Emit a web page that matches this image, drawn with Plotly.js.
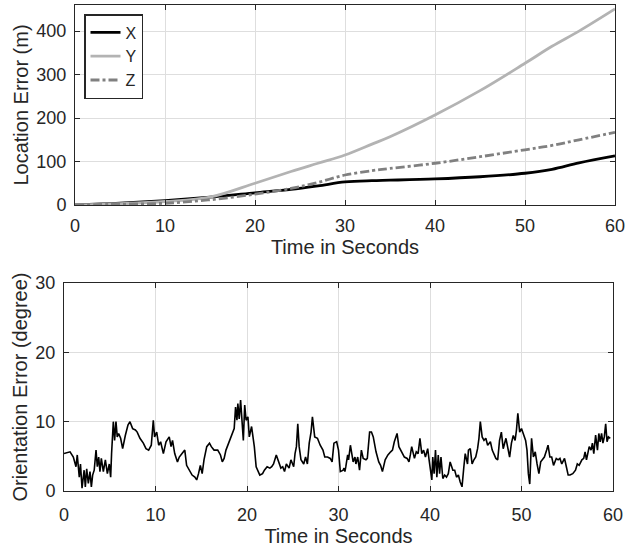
<!DOCTYPE html>
<html>
<head>
<meta charset="utf-8">
<script src="https://cdn.plot.ly/plotly-3.0.1.min.js"></script>
<style>body{margin:0;padding:0;background:#fff}#chart{width:637px;height:552px}</style>
</head>
<body>
<div id="chart"></div>
<script>
// Top chart: location error
var locTime = [0, 5, 10, 15, 20, 24, 27, 30, 33, 35, 40, 45, 50, 53, 56, 60];
var errX    = [0, 4, 10, 18, 28, 36, 44, 53, 56, 57, 60, 65, 73, 82, 97, 113];
var errY    = [0, 3, 8, 18, 50, 77, 96, 115, 140, 157, 207, 263, 326, 365, 400, 451];
var errZ    = [0, 2, 4, 12, 25, 38, 52, 69, 79, 84, 96, 111, 127, 137, 150, 167];

// Bottom chart: orientation error
var oriTime = [0,0.66,1.02,1.31,1.45,1.67,1.8,1.97,2.2,2.33,2.48,2.66,2.84,2.99,3.13,3.3,3.5,3.64,3.79,3.93,4.08,4.3,4.52,4.74,4.95,5.1,5.2,5.39,5.53,5.68,5.82,5.97,6.19,6.41,6.7,6.99,7.21,7.5,7.8,8.0,8.3,8.67,8.96,9.25,9.54,9.76,9.9,10.13,10.35,10.56,10.86,11.15,11.5,11.7,11.86,12.1,12.4,12.6,12.9,13.2,13.4,13.7,14.0,14.3,14.5,14.7,14.9,15.1,15.3,15.6,15.9,16.1,16.4,16.8,17.1,17.3,17.5,17.7,18.0,18.3,18.6,18.75,18.9,19.0,19.15,19.3,19.45,19.6,19.75,19.9,20.1,20.25,20.5,20.8,21.0,21.2,21.4,21.7,21.9,22.2,22.5,22.7,22.9,23.2,23.4,23.7,23.9,24.1,24.3,24.6,24.8,25.1,25.25,25.4,25.55,25.7,25.9,26.2,26.4,26.6,26.8,27.0,27.15,27.4,27.7,28.0,28.3,28.5,28.8,29.1,29.3,29.5,29.8,30.0,30.2,30.5,30.6,30.7,30.8,31.0,31.1,31.3,31.6,31.8,31.9,32.1,32.3,32.5,32.7,33.0,33.15,33.4,33.6,33.8,34.1,34.4,34.6,34.8,35.1,35.4,35.7,35.9,36.1,36.4,36.6,36.8,37.0,37.2,37.5,37.7,37.85,38.0,38.3,38.5,38.7,38.9,39.1,39.3,39.5,39.75,39.9,40.05,40.2,40.3,40.45,40.6,40.75,40.9,41.05,41.2,41.4,41.6,41.8,42.0,42.2,42.5,42.7,42.9,43.1,43.3,43.5,43.7,43.85,44.1,44.2,44.4,44.6,44.8,45.0,45.2,45.35,45.5,45.7,45.9,46.1,46.3,46.6,46.8,47.0,47.2,47.4,47.6,47.8,48.0,48.3,48.5,48.7,48.9,49.1,49.3,49.45,49.6,49.8,50.0,50.2,50.45,50.6,50.75,50.9,51.0,51.1,51.3,51.5,51.7,51.9,52.1,52.3,52.5,52.75,52.9,53.1,53.3,53.5,53.8,54.0,54.2,54.4,54.7,54.9,55.1,55.3,55.6,55.9,56.1,56.3,56.6,56.8,56.95,57.1,57.4,57.6,57.75,57.9,58.1,58.3,58.45,58.6,58.75,58.9,59.05,59.2,59.35,59.5,59.7];
var oriErr  = [5.4,5.65,4.9,3.5,5.2,2.0,3.9,0.4,3.0,0.6,3.2,1.1,2.8,0.6,2.3,3.0,5.9,3.5,4.9,2.8,4.7,2.8,4.5,2.5,3.9,2.0,5.4,10.0,7.3,10.0,7.8,8.3,7.6,6.1,8.0,9.5,10.0,9.0,8.8,8.5,7.6,6.9,6.1,5.9,6.6,10.2,7.8,8.5,6.6,7.1,5.4,7.1,7.8,6.4,7.3,5.4,4.2,4.9,5.4,5.9,3.7,3.0,2.3,2.0,1.6,2.5,3.7,2.5,4.5,6.4,6.9,6.4,5.9,5.9,5.2,4.2,4.7,5.9,6.9,8.05,9.0,12.1,10.2,12.6,10.4,13.1,9.3,7.3,12.4,10.2,10.7,7.8,9.3,6.4,3.5,3.0,2.3,2.5,3.0,3.5,3.3,3.5,3.9,5.2,4.5,3.3,3.5,2.8,3.9,3.3,4.5,3.5,5.4,6.4,9.7,6.4,4.5,3.9,4.9,3.9,6.9,8.5,10.7,7.8,7.6,6.6,5.9,4.9,4.9,4.7,4.2,6.9,7.1,5.9,2.8,3.0,3.3,2.8,3.5,5.2,4.5,6.6,4.2,4.9,3.9,4.9,3.0,5.9,4.7,4.5,4.7,8.5,8.5,7.8,5.65,4.2,3.7,2.8,4.5,5.2,5.65,5.9,7.1,8.3,6.4,5.9,5.4,4.9,4.7,4.2,5.2,6.4,4.7,5.65,5.4,7.6,5.4,5.9,4.9,6.1,4.5,2.5,1.6,4.9,2.5,5.9,2.0,5.2,2.5,4.9,1.8,2.3,2.0,2.5,4.2,3.0,3.0,2.0,2.3,1.3,0.6,3.5,5.4,3.9,5.9,6.1,3.9,4.5,4.9,6.1,7.6,10.0,7.8,7.3,7.6,6.6,7.1,5.9,5.2,4.7,4.5,7.3,8.5,6.1,7.6,6.4,4.9,6.9,8.0,7.3,8.8,11.2,8.5,9.0,8.3,7.3,5.9,2.5,1.0,5.4,7.6,4.9,5.65,3.9,2.5,4.2,4.5,4.9,5.9,6.6,4.9,4.9,3.7,4.7,4.5,4.7,3.9,4.7,3.5,2.3,2.3,2.5,3.0,3.9,3.7,4.5,4.7,5.65,4.5,6.4,5.9,6.9,5.4,8.05,5.9,8.3,7.1,8.3,6.9,7.8,9.7,7.1,7.8,7.6];

var txt = '#262626';
var fam = 'Liberation Sans, Arial, sans-serif';
var tickFont = {family: fam, size: 18, color: txt};
var titleFont = {family: fam, size: 20, color: txt};

function xax(domain, anchor, tls, ts) {
  return {
    domain: domain, anchor: anchor, range: [0, 60], tickvals: [0,10,20,30,40,50,60],
    ticks: 'inside', ticklen: 5, tickcolor: txt, showline: true, linecolor: txt, linewidth: 1,
    mirror: 'allticks', showgrid: true, gridcolor: '#dedede', gridwidth: 1, zeroline: false,
    tickfont: tickFont, ticklabelstandoff: tls,
    title: {text: 'Time in Seconds', font: titleFont, standoff: ts}
  };
}
function yax(domain, anchor, range, tv, ttl) {
  return {
    domain: domain, anchor: anchor, range: range, tickvals: tv,
    ticks: 'inside', ticklen: 5, tickcolor: txt, showline: true, linecolor: txt, linewidth: 1,
    mirror: 'allticks', showgrid: true, gridcolor: '#dedede', gridwidth: 1, zeroline: false,
    tickfont: tickFont, ticklabelstandoff: 4,
    title: {text: ttl, font: titleFont, standoff: 2}
  };
}

var data = [
  {x: locTime, y: errX, name: 'X', type: 'scatter', mode: 'lines', line: {color: '#000000', width: 2.8, shape: 'spline'}, xaxis: 'x', yaxis: 'y'},
  {x: locTime, y: errY, name: 'Y', type: 'scatter', mode: 'lines', line: {color: '#b3b3b3', width: 2.8, shape: 'spline'}, xaxis: 'x', yaxis: 'y'},
  {x: locTime, y: errZ, name: 'Z', type: 'scatter', mode: 'lines', line: {color: '#808080', width: 2.8, dash: 'dashdot', shape: 'spline'}, xaxis: 'x', yaxis: 'y'},
  {x: oriTime, y: oriErr, name: 'orientation', showlegend: false, type: 'scatter', mode: 'lines', line: {color: '#000000', width: 1.6}, xaxis: 'x2', yaxis: 'y2'}
];

var layout = {
  width: 637, height: 552,
  margin: {l: 0, r: 0, t: 0, b: 0},
  paper_bgcolor: '#ffffff', plot_bgcolor: '#ffffff',
  font: tickFont,
  showlegend: true,
  xaxis: xax([75/637, 615/637], 'y', 4, 2),
  yaxis: yax([(552-205)/552, (552-5)/552], 'x', [0, 460], [0,100,200,300,400], 'Location Error (m)'),
  xaxis2: xax([64/637, 613/637], 'y2', 7, 5),
  yaxis2: yax([(552-491)/552, (552-283)/552], 'x2', [0, 30], [0,10,20,30], 'Orientation Error (degree)'),
  legend: {
    x: 84/637, y: 1 - 14/552, xanchor: 'left', yanchor: 'top',
    bgcolor: '#ffffff', bordercolor: txt, borderwidth: 1.5,
    font: {family: fam, size: 16, color: txt}, itemwidth: 30, tracegroupgap: 0
  }
};

Plotly.newPlot('chart', data, layout, {staticPlot: true, displayModeBar: false});
</script>
</body>
</html>
